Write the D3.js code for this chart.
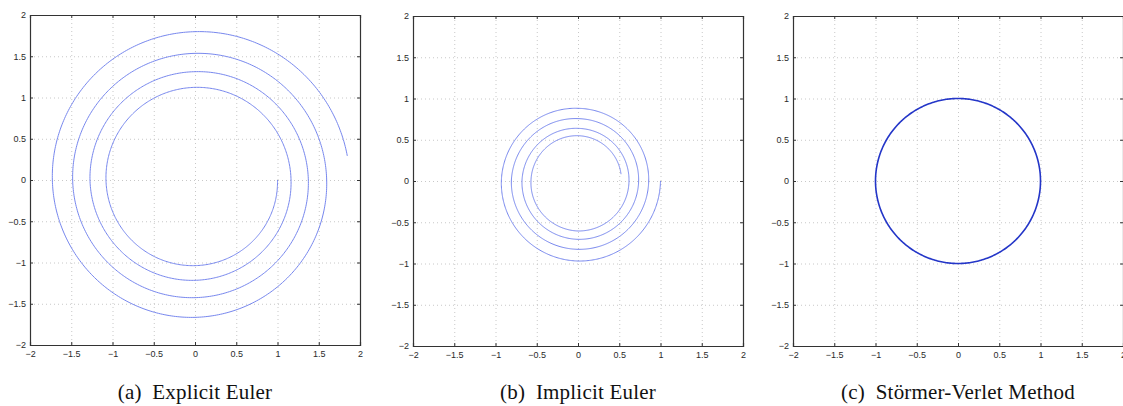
<!DOCTYPE html>
<meta charset="utf-8">
<style>
body { margin: 0; background: #fff; }
.tick text { font-family: "Liberation Sans", Arial, sans-serif; font-size: 9px; fill: #2a2a2a; }
.grid line { stroke: #c8c8c8; stroke-dasharray: 1,3; }
.caption { font-family: "Liberation Serif", "DejaVu Serif", serif; font-size: 21px; fill: #111; letter-spacing: 0.2px; }
</style>
<body>
<svg id="chart" width="1123" height="406"></svg>
<script src="https://d3js.org/d3.v7.min.js"></script>
<script>

// tick values shared by all three panels
var tickValues = [-2, -1.5, -1, -0.5, 0, 0.5, 1, 1.5, 2];

// quarter turns (clockwise, starting on the positive x axis)
var quarters = [0, 1, 2, 3, 4, 5, 6, 7, 8, 9, 10, 11, 12, 13, 14, 15, 15.9];

// radius read at each quarter turn
var explicitR = [1.0, 1.038, 1.079, 1.123, 1.164, 1.216, 1.273, 1.313, 1.374,
                 1.426, 1.483, 1.535, 1.596, 1.665, 1.729, 1.798, 1.869];
var implicitR = [1.0, 0.970, 0.929, 0.881, 0.857, 0.828, 0.808, 0.756, 0.735,
                 0.707, 0.679, 0.638, 0.618, 0.606, 0.570, 0.549, 0.528];
var verletR   = [1.0, 1.0, 1.0, 1.0, 1.0, 1.0, 1.0, 1.0, 1.0,
                 1.0, 1.0, 1.0, 1.0, 1.0, 1.0, 1.0, 1.0];

var captions = ["(a)\u2002Explicit Euler", "(b)\u2002Implicit Euler", "(c)\u2002Störmer-Verlet Method"];

var panels = [
  { left: 30,  top: 15, radii: explicitR, color: "#7787ee", width: 1 },
  { left: 413, top: 16, radii: implicitR, color: "#7787ee", width: 1 },
  { left: 793, top: 16, radii: verletR,   color: "#2436c8", width: 1.6 }
];
var size = 330;

var svg = d3.select("#chart");
var fmt = d3.format("~g");

panels.forEach(function(p, i) {
  var x = d3.scaleLinear().domain([-2, 2]).range([p.left, p.left + size]);
  var y = d3.scaleLinear().domain([-2, 2]).range([p.top + size, p.top]);

  var g = svg.append("g");

  // dotted grid
  var grid = g.append("g").attr("class", "grid");
  grid.selectAll(".gx").data(tickValues.slice(1, -1)).enter().append("line")
      .attr("x1", function(d) { return x(d) + 0.5; })
      .attr("x2", function(d) { return x(d) + 0.5; })
      .attr("y1", p.top).attr("y2", p.top + size);
  grid.selectAll(".gy").data(tickValues.slice(1, -1)).enter().append("line")
      .attr("y1", function(d) { return y(d) + 0.5; })
      .attr("y2", function(d) { return y(d) + 0.5; })
      .attr("x1", p.left).attr("x2", p.left + size);

  // spiral
  var rad = d3.scaleLinear().domain(quarters).range(p.radii);
  var steps = d3.range(0, quarters[quarters.length - 1], 0.01).concat([quarters[quarters.length - 1]]);
  var line = d3.line()
      .x(function(t) { return x(rad(t) * Math.cos(-t * Math.PI / 2)); })
      .y(function(t) { return y(rad(t) * Math.sin(-t * Math.PI / 2)); });
  g.append("path")
      .datum(steps)
      .attr("fill", "none")
      .attr("stroke", p.color)
      .attr("stroke-width", p.width)
      .attr("d", line);

  // axes (matlab style: inward ticks on all four sides)
  function axisStyle(sel) {
    sel.select(".domain").attr("stroke", "#333");
    sel.selectAll(".tick line").attr("stroke", "#333");
  }
  g.append("g").attr("transform", "translate(0," + (p.top + size) + ")")
      .call(d3.axisBottom(x).tickValues(tickValues).tickFormat(fmt).tickSize(-3).tickPadding(6))
      .call(axisStyle);
  g.append("g").attr("transform", "translate(" + p.left + ",0)")
      .call(d3.axisLeft(y).tickValues(tickValues).tickFormat(fmt).tickSize(-3).tickPadding(4))
      .call(axisStyle);
  g.append("g").attr("transform", "translate(0," + p.top + ")")
      .call(d3.axisTop(x).tickValues(tickValues).tickFormat("").tickSize(-3))
      .call(axisStyle);
  g.append("g").attr("transform", "translate(" + (p.left + size) + ",0)")
      .call(d3.axisRight(y).tickValues(tickValues).tickFormat("").tickSize(-3))
      .call(axisStyle);
  g.selectAll(".domain").attr("stroke-width", 1.2);

  svg.append("text")
      .attr("class", "caption")
      .attr("x", p.left + size / 2)
      .attr("y", 399)
      .attr("text-anchor", "middle")
      .text(captions[i]);
});

</script>
</body>
